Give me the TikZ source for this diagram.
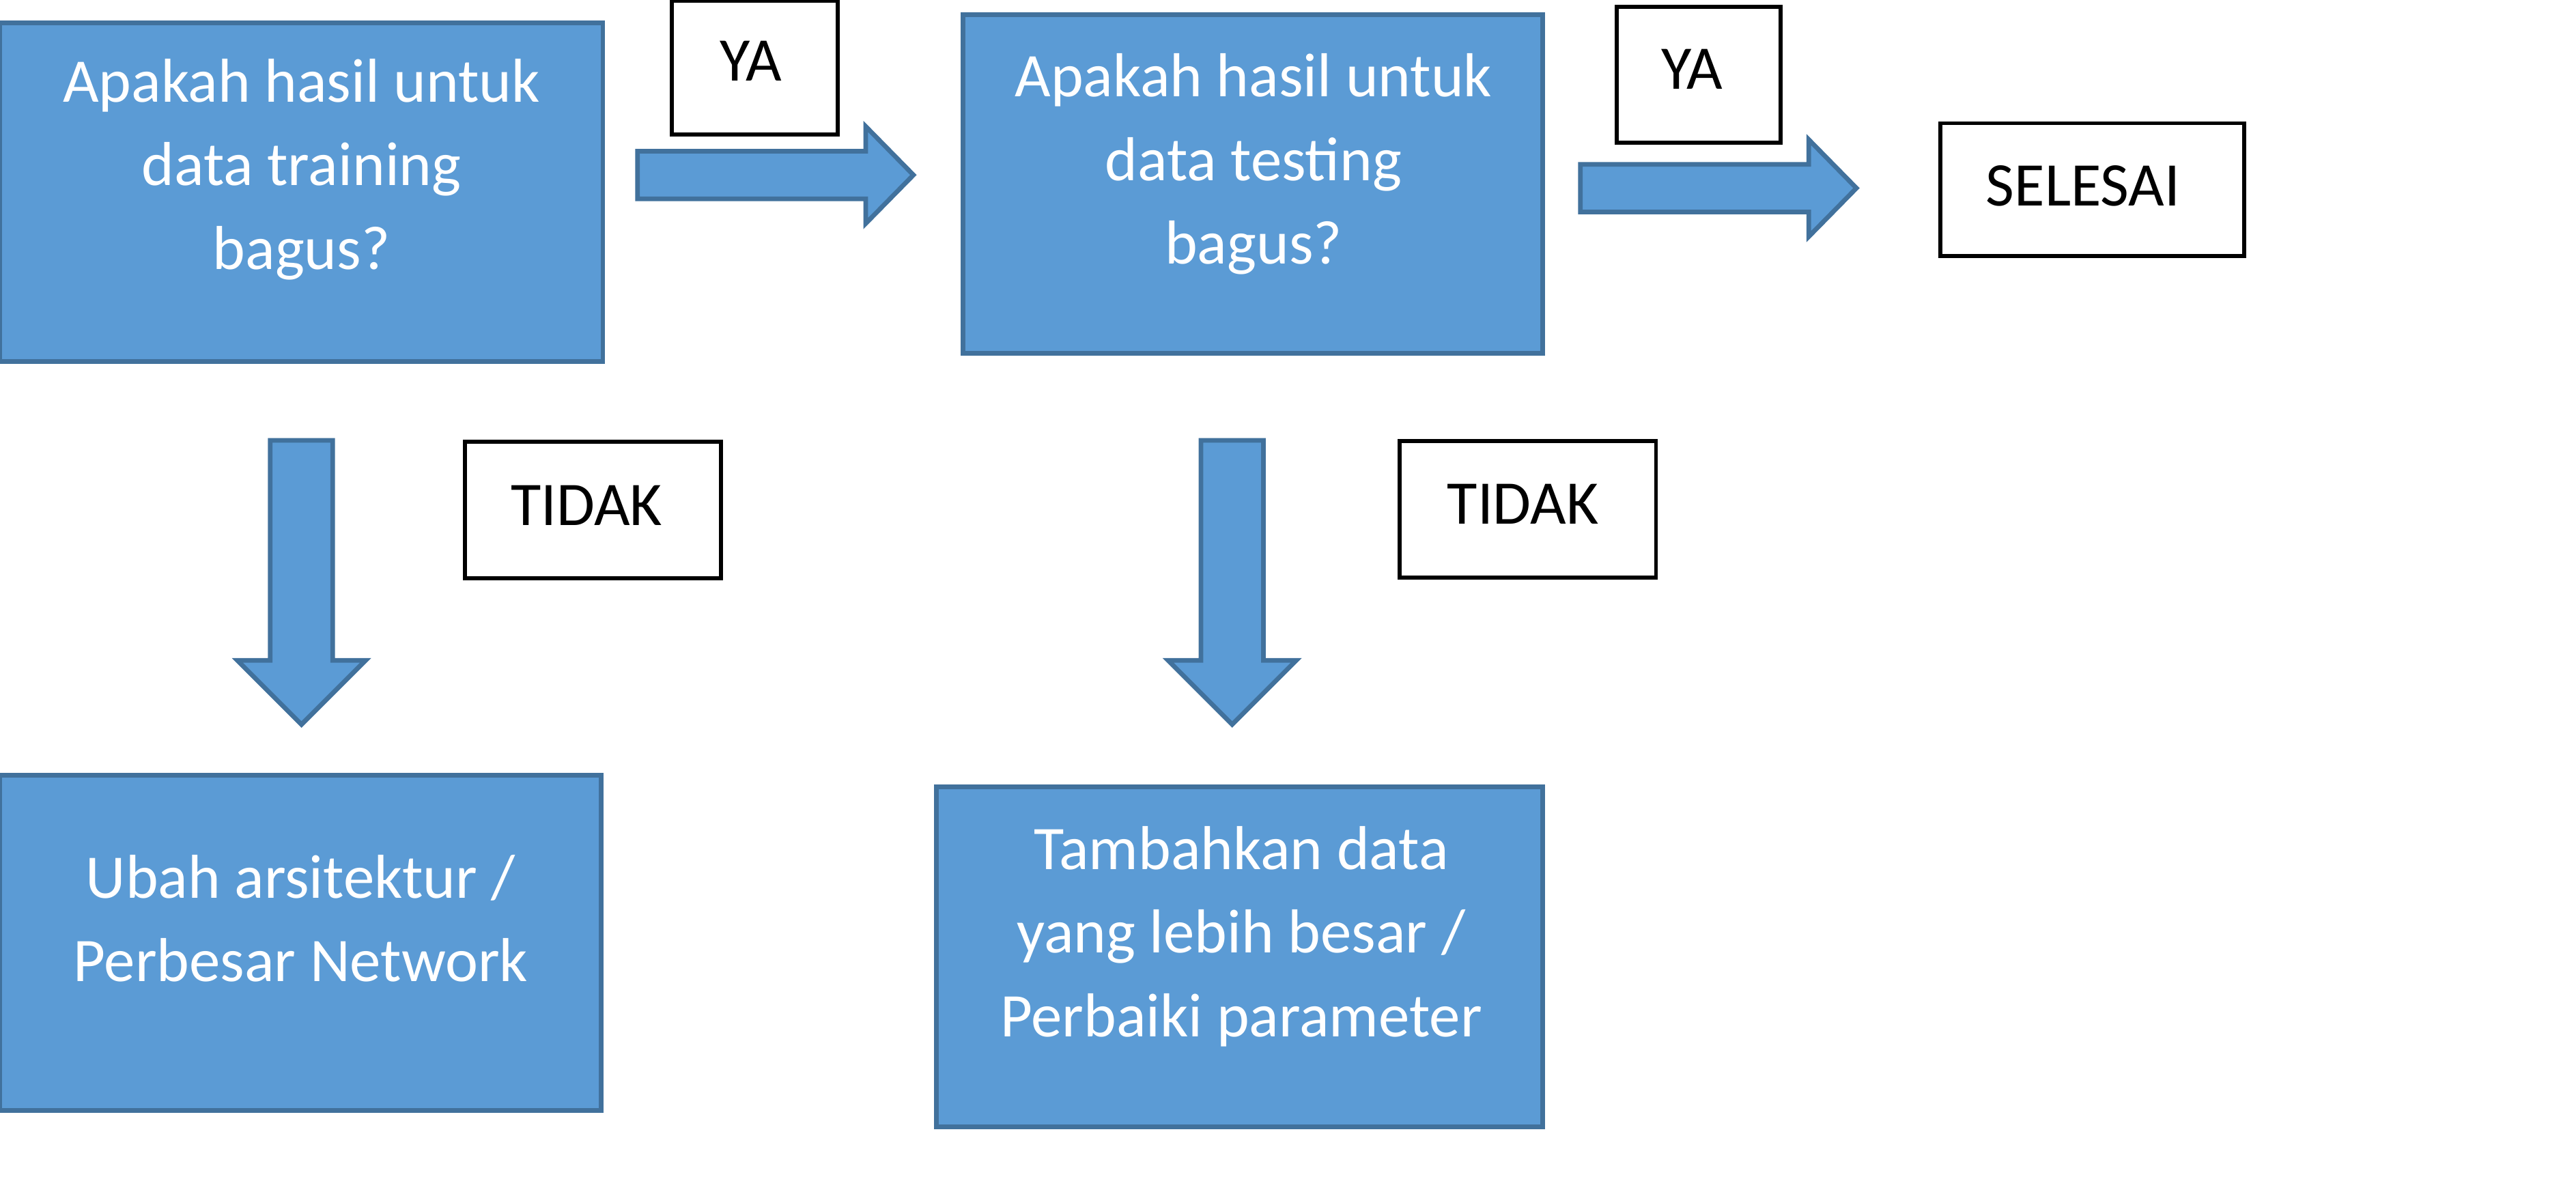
\documentclass[tikz,border=0pt]{standalone}
\usepackage{fontspec}
\setmainfont{Carlito}
\usetikzlibrary{positioning}
\definecolor{boxblue}{RGB}{91,155,213}
\definecolor{edgeblue}{RGB}{65,113,156}
\tikzset{
  stepbox/.style={draw=edgeblue, fill=boxblue, line width=1.6pt, inner sep=0pt},
  steptxt/.style={text=white, align=center, font=\fontsize{21.5}{29}\selectfont},
  answbox/.style={draw=black, fill=white, line width=1.4pt, inner sep=0pt},
  answtxt/.style={text=black, font=\fontsize{21.5}{29}\selectfont},
  blockarr/.style={draw=edgeblue, fill=boxblue, line width=1.6pt, line join=miter},
}
% block arrows: #1 = start x, #2 = centre y (right) / centre x, #2 = top y (down)
\newcommand{\RARROW}[2]{%
  \draw[blockarr] (#1,#2-14.5) -- (#1+139,#2-14.5) -- (#1+139,#2-29.5) -- (#1+168,#2)
    -- (#1+139,#2+29.5) -- (#1+139,#2+14.5) -- (#1,#2+14.5) -- cycle;}
\newcommand{\DARROW}[2]{%
  \draw[blockarr] (#1-19,#2) -- (#1+19,#2) -- (#1+19,#2+134) -- (#1+39,#2+134)
    -- (#1,#2+173) -- (#1-39,#2+134) -- (#1-19,#2+134) -- cycle;}

\begin{document}
\begin{tikzpicture}[x=0.02cm, y=-0.02cm]
\useasboundingbox (0,0) rectangle (1568,724);

% ============================================================ question boxes
\node[stepbox, minimum width=7.34cm, minimum height=4.12cm] (train) at (183.5,117) {};
\node[steptxt] (traintxt) at (183.5,103) {Apakah hasil untuk\\data training\\bagus?};

\node[stepbox, minimum width=7.06cm, minimum height=4.12cm] (test) at (762.5,112) {};
\node[steptxt] (testtxt) at (763,100) {Apakah hasil untuk\\data testing\\bagus?};

% ============================================================ action boxes
\node[stepbox, minimum width=7.32cm, minimum height=4.08cm] (arch) at (183,574) {};
\node[steptxt] (archtxt) at (183,559) {Ubah arsitektur /\\Perbesar Network};

\node[stepbox, minimum width=7.38cm, minimum height=4.14cm] (param) at (754.5,582.5) {};
\node[steptxt] (paramtxt) at (755.5,570) {Tambahkan data\\yang lebih besar /\\Perbaiki parameter};

% ============================================================ answer labels
\node[answbox, minimum width=2.02cm, minimum height=1.63cm] (ya1) at (459.5,41) {};
\node[answtxt] (ya1txt) at (457,37) {YA};
\node[answbox, minimum width=2.0cm, minimum height=1.66cm] (ya2) at (1034,45.5) {};
\node[answtxt] (ya2txt) at (1030,42) {YA};
\node[answbox, minimum width=3.12cm, minimum height=1.66cm] (tidak1) at (361,310.5) {};
\node[answtxt] (tidak1txt) at (357,307.5) {TIDAK};
\node[answbox, minimum width=3.12cm, minimum height=1.66cm] (tidak2) at (930,310) {};
\node[answtxt] (tidak2txt) at (927,307) {TIDAK};
\node[answbox, minimum width=3.7cm, minimum height=1.62cm] (done) at (1273.5,115.5) {};
\node[answtxt] (donetxt) at (1268,113) {SELESAI};

% ============================================================ block arrows
\RARROW{388}{106.5}
\RARROW{962}{114.5}
\DARROW{183.5}{268}
\DARROW{750}{268}

\end{tikzpicture}
\end{document}
